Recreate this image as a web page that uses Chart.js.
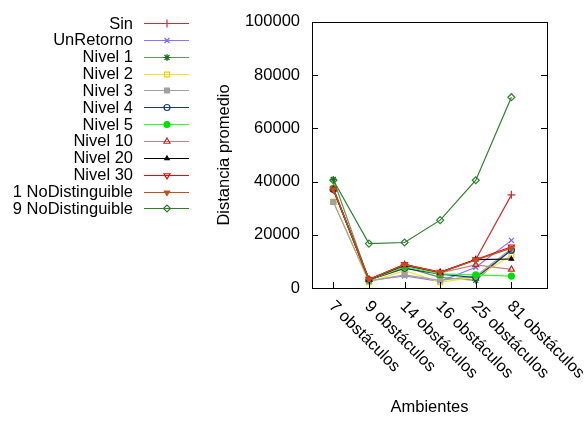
<!DOCTYPE html>
<html lang="es">
<head>
  <meta charset="UTF-8" />
  <title>Distancia promedio por ambiente</title>
  <script src="https://cdn.jsdelivr.net/npm/chart.js"></script>
  <style>
    html, body { margin: 0; padding: 0; background: #fff; }
    #wrap { width: 587px; height: 421px; }
  </style>
</head>
<body>
  <div id="wrap"><canvas id="chart" width="587" height="421"></canvas></div>

  <script>
    // datos
    const ambientes = ['7 obstáculos', '9 obstáculos', '14 obstáculos', '16 obstáculos', '25 obstáculos', '81 obstáculos'];
    const yTicks = [0, 20000, 40000, 60000, 80000, 100000];

    const sin        = [37000,  3200,  8800,  5800, 10700, 35000];
    const unRetorno  = [37500,  2800,  4500,  2500,  7800, 17900];
    const nivel1     = [40800,  3000,  7800,  4000,  2900, 14500];
    const nivel2     = [32500,  2200,  6500,  2200,  4000, 12300];
    const nivel3     = [32300,  2600,  4900,  2900,  4500, 14800];
    const nivel4     = [37000,  3000,  7400,  5200,  3900, 14200];
    const nivel5     = [37500,  3000,  8000,  5300,  4900,  4500];
    const nivel10    = [37200,  3100,  8600,  5700,  8700,  7000];
    const nivel20    = [37000,  3100,  8600,  5900, 10700, 10900];
    const nivel30    = [37200,  3300,  8900,  6000, 10700, 15500];
    const noDist1    = [37000,  3200,  8800,  5900, 10500, 15000];
    const noDist9    = [40500, 16700, 17100, 25500, 40500, 71700];

    const FONT = 'Liberation Sans, Arial, sans-serif';
    const FSIZE = 16.5;

    // series: nombre, valores, color de linea, color de marca, estilo
    const series = [
      ['Sin',              sin,       '#cc3030', '#cc3030', 'cross',    0,   false, 4],
      ['UnRetorno',        unRetorno, '#9070ff', '#8060ff', 'crossRot', 0,   false, 3.5],
      ['Nivel 1',          nivel1,    '#5a9a5a', '#1a6a1a', 'star',     0,   false, 3.5],
      ['Nivel 2',          nivel2,    '#ffe030', '#f0d000', 'rect',     0,   false, 3.5],
      ['Nivel 3',          nivel3,    '#a0a0a0', '#a0a0a0', 'rect',     0,   true,  3.5],
      ['Nivel 4',          nivel4,    '#1a3a80', '#1a3a80', 'circle',   0,   false, 3],
      ['Nivel 5',          nivel5,    '#30ff30', '#00e000', 'circle',   0,   true,  3],
      ['Nivel 10',         nivel10,   '#c88080', '#b03030', 'triangle', 0,   false, 3.5],
      ['Nivel 20',         nivel20,   '#000000', '#000000', 'triangle', 0,   true,  2.5],
      ['Nivel 30',         nivel30,   '#ff0000', '#ff0000', 'triangle', 180, false, 3.5],
      ['1 NoDistinguible', noDist1,   '#c05020', '#c05020', 'triangle', 180, true,  3],
      ['9 NoDistinguible', noDist9,   '#2f7f2f', '#2f7f2f', 'rectRot',  0,   false, 3.5]
    ];

    const datasets = series.map((s, i) => ({
      label: s[0],
      data: s[1].map((v, k) => ({ x: k, y: v })),
      borderColor: s[2],
      borderWidth: 1.2,
      pointStyle: s[4],
      pointRotation: s[5],
      pointRadius: s[7],
      pointBorderColor: s[3],
      pointBackgroundColor: s[6] ? s[3] : 'rgba(0,0,0,0)',
      pointBorderWidth: 1.2,
      order: series.length - i,
      fill: false,
      tension: 0
    }));

    // marco, marcas de escala, etiquetas giradas y leyenda al estilo gnuplot
    const gnuplotLook = {
      id: 'gnuplotLook',
      afterDraw(chart) {
        const ctx = chart.ctx;
        const a = chart.chartArea;
        const xs = chart.scales.x, ys = chart.scales.y;
        ctx.save();
        ctx.strokeStyle = '#000';
        ctx.lineWidth = 1;
        ctx.strokeRect(Math.round(a.left) + 0.5, Math.round(a.top) + 0.5,
                       Math.round(a.right - a.left), Math.round(a.bottom - a.top));
        ctx.beginPath();
        yTicks.forEach(v => {
          const py = Math.round(ys.getPixelForValue(v)) + 0.5;
          ctx.moveTo(a.left, py); ctx.lineTo(a.left + 6, py);
          ctx.moveTo(a.right, py); ctx.lineTo(a.right - 6, py);
        });
        ambientes.forEach((n, k) => {
          const px = Math.round(xs.getPixelForValue(k)) + 0.5;
          ctx.moveTo(px, a.bottom); ctx.lineTo(px, a.bottom - 6);
        });
        ctx.stroke();

        // etiquetas del eje x
        ctx.fillStyle = '#000';
        ctx.font = FSIZE + 'px ' + FONT;
        ctx.textAlign = 'left';
        ctx.textBaseline = 'alphabetic';
        ambientes.forEach((n, k) => {
          const px = xs.getPixelForValue(k);
          ctx.save();
          ctx.translate(px - 5, a.bottom + 19);
          ctx.rotate(Math.PI / 4);
          ctx.fillText(n, 0, 0);
          ctx.restore();
        });

        // leyenda
        ctx.textAlign = 'right';
        ctx.textBaseline = 'middle';
        chart.data.datasets.forEach((d, i) => {
          const y = 23 + i * 16.85;
          ctx.fillStyle = '#000';
          ctx.fillText(d.label, 133, y + 1);
          ctx.strokeStyle = d.borderColor;
          ctx.lineWidth = 1.2;
          ctx.beginPath();
          ctx.moveTo(144, Math.round(y) + 0.5);
          ctx.lineTo(189, Math.round(y) + 0.5);
          ctx.stroke();
          if (Chart.helpers && Chart.helpers.drawPoint) {
            ctx.strokeStyle = d.pointBorderColor;
            ctx.fillStyle = d.pointBackgroundColor;
            ctx.lineWidth = d.pointBorderWidth;
            Chart.helpers.drawPoint(ctx, {
              pointStyle: d.pointStyle,
              rotation: d.pointRotation,
              radius: d.pointRadius,
              borderWidth: d.pointBorderWidth
            }, 167, Math.round(y) + 0.5);
          }
        });
        ctx.restore();
      }
    };

    new Chart(document.getElementById('chart'), {
      type: 'line',
      data: { datasets },
      plugins: [gnuplotLook],
      options: {
        responsive: false,
        animation: false,
        layout: { padding: { left: 215, right: 40, top: 15, bottom: 0 } },
        plugins: { legend: { display: false }, tooltip: { enabled: false } },
        scales: {
          x: {
            type: 'linear',
            min: -0.6,
            max: 6,
            grid: { display: false },
            border: { display: false },
            ticks: { display: false },
            title: {
              display: true,
              text: 'Ambientes',
              color: '#000',
              font: { family: FONT, size: FSIZE },
              padding: { top: 0, bottom: 4 }
            },
            afterFit(scale) { scale.height = 133; }
          },
          y: {
            min: 0,
            max: 100000,
            grid: { display: false, drawTicks: false },
            border: { display: false },
            afterBuildTicks(scale) { scale.ticks = yTicks.map(v => ({ value: v })); },
            ticks: {
              color: '#000',
              padding: 12,
              font: { family: FONT, size: FSIZE },
              callback: v => String(v)
            },
            title: {
              display: true,
              text: 'Distancia promedio',
              color: '#000',
              font: { family: FONT, size: FSIZE },
              padding: { top: 0, bottom: 0 }
            },
            afterFit(scale) { scale.width = 97; }
          }
        }
      }
    });
  </script>
</body>
</html>
